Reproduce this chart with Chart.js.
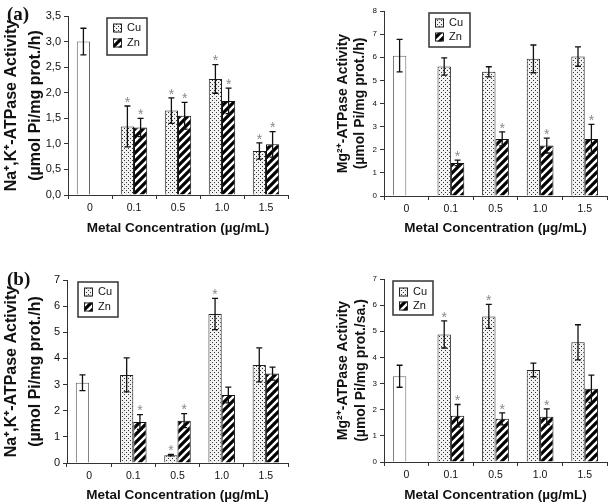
<!DOCTYPE html>
<html>
<head>
<meta charset="utf-8">
<script src="https://cdn.jsdelivr.net/npm/chart.js@4.4.0/dist/chart.umd.min.js"></script>
<style>
  html, body { margin: 0; padding: 0; background: #fff; }
  #wrap { position: relative; width: 610px; height: 503px; overflow: hidden; }
  .panel { position: absolute; }
  .tag { position: absolute; font: bold 19px "Liberation Serif", serif; color: #111; }
</style>
</head>
<body>
<div id="wrap">
  <canvas class="panel" id="cA" width="305" height="250" style="left:0;top:0"></canvas>
  <canvas class="panel" id="cB" width="305" height="250" style="left:305px;top:0"></canvas>
  <canvas class="panel" id="cC" width="305" height="253" style="left:0;top:250px"></canvas>
  <canvas class="panel" id="cD" width="305" height="253" style="left:305px;top:250px"></canvas>
  <div class="tag" style="left:7px;top:3px">(a)</div>
  <div class="tag" style="left:7px;top:268px">(b)</div>
</div>
<script>
const categories = ['0', '0.1', '0.5', '1.0', '1.5'];

// first value of every Cu array is the untreated control (white bar)
// (a) Na+,K+-ATPase
const naA_cu = [3.0, 1.34, 1.65, 2.27, 0.86];
const naA_cuErr = [0.26, 0.40, 0.25, 0.28, 0.16];
const naA_zn = [null, 1.32, 1.55, 1.84, 0.99];
const naA_znErr = [null, 0.18, 0.26, 0.25, 0.25];
const naA_cuStar = [0, 1, 1, 1, 1];
const naA_znStar = [0, 1, 1, 1, 1];

// (a) Mg2+-ATPase
const mgA_cu = [6.07, 5.60, 5.37, 5.93, 6.03];
const mgA_cuErr = [0.70, 0.37, 0.22, 0.60, 0.42];
const mgA_zn = [null, 1.43, 2.47, 2.18, 2.47];
const mgA_znErr = [null, 0.12, 0.30, 0.32, 0.63];
const mgA_cuStar = [0, 0, 0, 0, 0];
const mgA_znStar = [0, 1, 1, 1, 1];

// (b) Na+,K+-ATPase
const naB_cu = [3.07, 3.37, 0.30, 5.70, 3.75];
const naB_cuErr = [0.30, 0.65, 0.03, 0.60, 0.65];
const naB_zn = [null, 1.57, 1.62, 2.60, 3.42];
const naB_znErr = [null, 0.28, 0.27, 0.30, 0.25];
const naB_cuStar = [0, 0, 1, 1, 0];
const naB_znStar = [0, 1, 1, 0, 0];

// (b) Mg2+-ATPase
const mgB_cu = [3.28, 4.88, 5.57, 3.52, 4.58];
const mgB_cuErr = [0.42, 0.52, 0.46, 0.26, 0.67];
const mgB_zn = [null, 1.77, 1.65, 1.73, 2.80];
const mgB_znErr = [null, 0.43, 0.23, 0.30, 0.52];
const mgB_cuStar = [0, 1, 1, 0, 0];
const mgB_znStar = [0, 1, 1, 1, 0];

const FONT = '"Liberation Sans", Arial, sans-serif';

// fill patterns: stipple for Cu, diagonal hatch for Zn
function dotPattern() {
  const c = document.createElement('canvas');
  c.width = 4; c.height = 4;
  const g = c.getContext('2d');
  g.fillStyle = '#f2f2f2';
  g.fillRect(0, 0, 4, 4);
  g.fillStyle = '#333';
  g.fillRect(0, 0, 1, 1);
  g.fillRect(2, 2, 1, 1);
  return g.createPattern(c, 'repeat');
}
function hatchPattern() {
  const s = 8;
  const c = document.createElement('canvas');
  c.width = s; c.height = s;
  const g = c.getContext('2d');
  g.fillStyle = '#fff';
  g.fillRect(0, 0, s, s);
  g.strokeStyle = '#000';
  g.lineWidth = 3.2;
  g.beginPath();
  g.moveTo(-1, s + 1); g.lineTo(s + 1, -1);
  g.moveTo(-s / 2 - 1, s / 2 + 1); g.lineTo(s / 2 + 1, -s / 2 - 1);
  g.moveTo(s / 2 - 1, s * 1.5 + 1); g.lineTo(s * 1.5 + 1, s / 2 - 1);
  g.stroke();
  return g.createPattern(c, 'repeat');
}
const dots = dotPattern();
const hatch = hatchPattern();

// error bars + significance asterisks
const errorBars = {
  id: 'errorBars',
  afterDatasetsDraw(chart) {
    const ctx = chart.ctx;
    const y = chart.scales.y;
    chart.data.datasets.forEach((ds, i) => {
      chart.getDatasetMeta(i).data.forEach((bar, j) => {
        const v = ds.data[j];
        if (v == null) return;
        const e = ds.errors[j] || 0;
        const top = y.getPixelForValue(v + e);
        const bot = y.getPixelForValue(v - e);
        ctx.save();
        ctx.strokeStyle = '#111';
        ctx.lineWidth = 1.3;
        ctx.beginPath();
        ctx.moveTo(bar.x, bot); ctx.lineTo(bar.x, top);
        ctx.moveTo(bar.x - 3, top); ctx.lineTo(bar.x + 3, top);
        ctx.moveTo(bar.x - 3, bot); ctx.lineTo(bar.x + 3, bot);
        ctx.stroke();
        if (ds.stars[j]) {
          ctx.fillStyle = '#8a8a8a';
          ctx.font = '14px ' + FONT;
          ctx.textAlign = 'center';
          ctx.textBaseline = 'middle';
          ctx.fillText('*', bar.x, top - 3);
        }
        ctx.restore();
      });
    });
  }
};

// framed legend inside the plot
const boxLegend = {
  id: 'boxLegend',
  afterDraw(chart, args, o) {
    const ctx = chart.ctx;
    ctx.save();
    ctx.strokeStyle = '#333';
    ctx.lineWidth = 1.5;
    ctx.strokeRect(o.x, o.y, o.w, o.h);
    chart.data.datasets.forEach((ds, i) => {
      const ry = o.y + o.row0 + i * o.gap;
      ctx.fillStyle = ds.legendFill;
      ctx.fillRect(o.x + 6, ry - 4.5, 9, 9);
      ctx.strokeStyle = '#222';
      ctx.lineWidth = 1;
      ctx.strokeRect(o.x + 6.5, ry - 4, 8, 8);
      ctx.fillStyle = '#111';
      ctx.font = '11px ' + FONT;
      ctx.textAlign = 'left';
      ctx.textBaseline = 'middle';
      ctx.fillText(ds.label, o.x + 20, ry);
    });
    ctx.restore();
  }
};

function makeChart(id, p) {
  const cuFill = categories.map((c, i) => (i === 0 ? '#fff' : dots));
  const cuBorder = categories.map((c, i) => (i === 0 ? '#666' : '#222'));
  const cv = document.getElementById(id);
  return new Chart(cv, {
    type: 'bar',
    data: {
      labels: categories,
      datasets: [
        { label: 'Cu', data: p.cu, errors: p.cuErr, stars: p.cuStar, legendFill: dots,
          backgroundColor: cuFill, borderColor: cuBorder, borderWidth: 1 },
        { label: 'Zn', data: p.zn, errors: p.znErr, stars: p.znStar, legendFill: hatch,
          backgroundColor: hatch, borderColor: '#111', borderWidth: 1 }
      ]
    },
    options: {
      responsive: false,
      animation: false,
      categoryPercentage: 0.6,
      barPercentage: 1.0,
      layout: { padding: { left: 0, top: p.area.top, right: cv.width - p.area.right, bottom: 0 } },
      plugins: {
        legend: { display: false },
        tooltip: { enabled: false },
        boxLegend: p.legend
      },
      scales: {
        x: {
          afterFit: (s) => { s.height = cv.height - p.area.bottom; },
          grid: { drawOnChartArea: false, drawTicks: true, tickLength: 4, color: '#333' },
          border: { color: '#333', width: 1 },
          ticks: { color: '#111', padding: 3, font: { family: FONT, size: 10.5 } },
          title: {
            display: true,
            text: 'Metal Concentration (µg/mL)',
            color: '#111',
            font: { family: FONT, size: 13.5, weight: 'bold', lineHeight: 1.2 },
            padding: { top: 0, bottom: p.xTitlePad }
          }
        },
        y: {
          min: 0,
          max: p.yMax,
          afterFit: (s) => { s.width = p.area.left; },
          grid: { drawOnChartArea: false, drawTicks: true, tickLength: 4, color: '#333' },
          border: { color: '#333', width: 1 },
          ticks: {
            stepSize: p.yStep,
            color: '#111',
            padding: 3,
            font: { family: FONT, size: p.yTickSize },
            callback: p.yFormat
          },
          title: {
            display: true,
            text: p.yTitle,
            color: '#111',
            font: { family: FONT, size: p.yTitleSize, weight: 'bold', lineHeight: p.yTitleLH },
            padding: { top: p.yTitlePad, bottom: 0 }
          }
        }
      }
    },
    plugins: [errorBars, boxLegend]
  });
}

const comma = (v) => v.toFixed(1).replace('.', ',');
const plain = (v) => String(v);

makeChart('cA', {
  cu: naA_cu, cuErr: naA_cuErr, cuStar: naA_cuStar,
  zn: naA_zn, znErr: naA_znErr, znStar: naA_znStar,
  yMax: 3.5, yStep: 0.5, yFormat: comma, yTickSize: 11,
  yTitle: ['Na⁺,K⁺-ATPase Activity', '(µmol Pi/mg prot./h)'],
  yTitleSize: 16, yTitleLH: 1.5, yTitlePad: 0,
  xTitlePad: 14,
  area: { left: 68, right: 288, top: 16, bottom: 195 },
  legend: { x: 107, y: 18, w: 40, h: 37, row0: 10, gap: 15 }
});

makeChart('cB', {
  cu: mgA_cu, cuErr: mgA_cuErr, cuStar: mgA_cuStar,
  zn: mgA_zn, znErr: mgA_znErr, znStar: mgA_znStar,
  yMax: 8, yStep: 1, yFormat: plain, yTickSize: 8,
  yTitle: ['Mg²⁺-ATPase Activity', '(µmol Pi/mg prot./h)'],
  yTitleSize: 14, yTitleLH: 1.22, yTitlePad: 29.5,
  xTitlePad: 14,
  area: { left: 79, right: 302, top: 11, bottom: 196 },
  legend: { x: 124, y: 13, w: 41, h: 34, row0: 10, gap: 14 }
});

makeChart('cC', {
  cu: naB_cu, cuErr: naB_cuErr, cuStar: naB_cuStar,
  zn: naB_zn, znErr: naB_znErr, znStar: naB_znStar,
  yMax: 7, yStep: 1, yFormat: plain, yTickSize: 11,
  yTitle: ['Na⁺,K⁺-ATPase Activity', '(µmol Pi/mg prot./h)'],
  yTitleSize: 16, yTitleLH: 1.5, yTitlePad: 0,
  xTitlePad: 0,
  area: { left: 67, right: 288, top: 30, bottom: 213 },
  legend: { x: 78, y: 32, w: 40, h: 35, row0: 10, gap: 15 }
});

makeChart('cD', {
  cu: mgB_cu, cuErr: mgB_cuErr, cuStar: mgB_cuStar,
  zn: mgB_zn, znErr: mgB_znErr, znStar: mgB_znStar,
  yMax: 7, yStep: 1, yFormat: plain, yTickSize: 8,
  yTitle: ['Mg²⁺-ATPase Activity', '(µmol Pi/mg prot./sa.)'],
  yTitleSize: 14, yTitleLH: 1.29, yTitlePad: 29,
  xTitlePad: 0,
  area: { left: 79, right: 302, top: 29, bottom: 212 },
  legend: { x: 88, y: 31, w: 40, h: 34, row0: 11, gap: 14 }
});
</script>
</body>
</html>
